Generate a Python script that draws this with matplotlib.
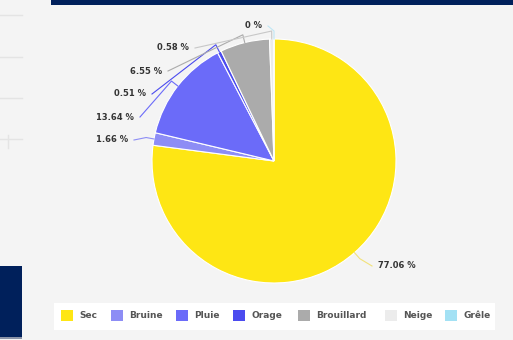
import numpy as np
import matplotlib.pyplot as plt
from matplotlib.patches import Rectangle

# Weather breakdown (share of days, %)
categories = ['Sec', 'Bruine', 'Pluie', 'Orage', 'Brouillard', 'Neige', 'Grêle']
shares = [77.06, 1.66, 13.64, 0.51, 6.55, 0.58, 0.0]
colors = ['#fee614', '#8d8df5', '#6b6bf9', '#4b4bef', '#ababab', '#ececec', '#a3e1f4']

W, H = 513, 340
fig = plt.figure(figsize=(W / 100, H / 100), dpi=100)
fig.patch.set_facecolor('#f4f4f4')
ax = fig.add_axes([0, 0, 1, 1])

def py(y):
    # pixel row measured from the top
    return H - y

cx, cy, R = 274, py(161), 122
wedges, _ = ax.pie(shares, colors=colors, startangle=90, counterclock=False,
                   center=(cx, cy), radius=R, frame=True,
                   wedgeprops=dict(edgecolor='white', linewidth=0.8))
ax.set_xlim(0, W)
ax.set_ylim(0, H)
ax.set_aspect('equal')
ax.axis('off')

# page furniture around the chart
ax.add_patch(Rectangle((51, py(5)), W - 51, 5, color='#00205b', lw=0))
ax.add_patch(Rectangle((0, py(337)), 22, 71, color='#00205b', lw=0))
ax.add_patch(Rectangle((0, py(339)), 22, 2, color='#8a93a8', lw=0))
for yy in [15, 57, 98, 139]:
    ax.plot([0, 22], [py(yy), py(yy)], color='#e4e4e4', lw=1)
ax.plot([8, 8], [py(135), py(148)], color='#e4e4e4', lw=1)

# label anchor: (x edge of text, row from top, side)
label_pos = {
    'Sec': (378, 266, 'left'),
    'Bruine': (128, 140, 'right'),
    'Pluie': (134, 117, 'right'),
    'Orage': (146, 94, 'right'),
    'Brouillard': (162, 71, 'right'),
    'Neige': (189, 48, 'right'),
    'Grêle': (262, 26, 'right'),
}
text_kw = dict(fontsize=6, fontweight='bold', color='#333333', family='DejaVu Sans',
               va='center')

for w, name, val, col in zip(wedges, categories, shares, colors):
    mid = np.deg2rad((w.theta1 + w.theta2) / 2)
    ex, ey = cx + R * np.cos(mid), cy + R * np.sin(mid)
    kx, ky = cx + (R + 8) * np.cos(mid), cy + (R + 8) * np.sin(mid)
    lx, ly, side = label_pos[name]
    line_col = col
    if name == 'Sec':
        line_col = '#f2e27a'
    elif name == 'Neige':
        line_col = '#c8c8c8'
    elif name == 'Grêle':
        line_col = '#bfe7f4'
    if side == 'right':
        ax.text(lx, py(ly), f'{val:g} %', ha='right', **text_kw)
        tx = lx + 6
    else:
        ax.text(lx, py(ly), f'{val:g} %', ha='left', **text_kw)
        tx = lx - 6
    ax.plot([ex, kx, tx], [ey, ky, py(ly)], color=line_col, lw=0.8)

# legend strip
ax.add_patch(Rectangle((54, py(330)), 441, 27, color='white', lw=0))
legend_x = [61, 111, 176, 233, 298, 385, 445]
for x0, name, col in zip(legend_x, categories, colors):
    ax.add_patch(Rectangle((x0, py(321)), 12, 11, color=col, lw=0))
    ax.text(x0 + 18, py(316), name, fontsize=6.5, fontweight='bold', color='#555555',
            family='DejaVu Sans', va='center', ha='left')

fig.savefig('out.png', dpi=100, facecolor=fig.get_facecolor())
